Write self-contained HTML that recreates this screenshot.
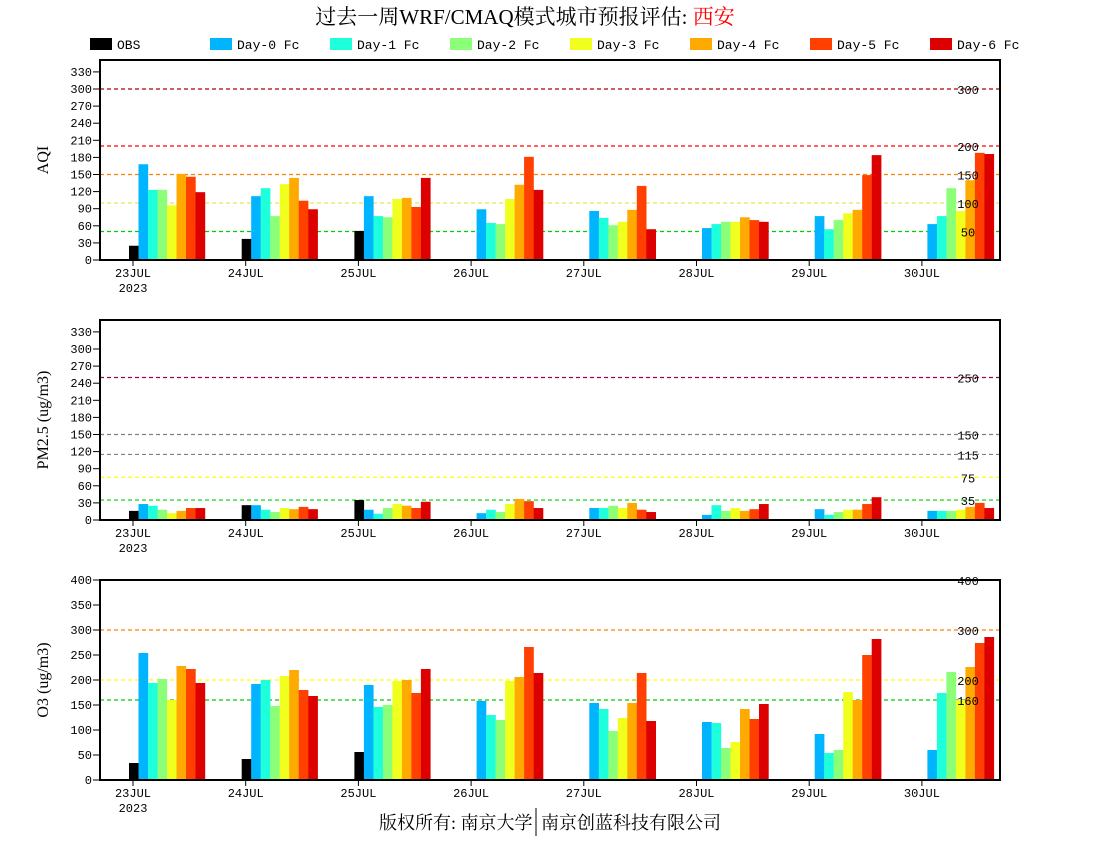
<!DOCTYPE html>
<html><head><meta charset="utf-8"><style>
body{margin:0;background:#fff;width:1100px;height:850px;overflow:hidden}
svg{display:block}
text{font-family:"Liberation Mono","Noto Sans CJK SC",monospace;fill:#000}
</style></head><body>
<svg id="s" width="1100" height="850" xmlns="http://www.w3.org/2000/svg">
<text x="525" y="24" text-anchor="middle" style="font-family:'Liberation Serif','Noto Serif CJK SC',serif;font-size:21px">过去一周WRF/CMAQ模式城市预报评估: <tspan fill="#ff0000" style="fill:#ff0000">西安</tspan></text>
<text x="550" y="829" text-anchor="middle" style="font-family:'Liberation Serif','Noto Serif CJK SC',serif;font-size:18px">版权所有: 南京大学 <tspan dx="4">南京创蓝科技有限公司</tspan></text>
<line x1="536" y1="808" x2="536" y2="836" stroke="#000" stroke-width="1"/>
</svg>
<script>
const s=document.getElementById('s');const NS='http://www.w3.org/2000/svg';
function el(t,a,txt){const e=document.createElementNS(NS,t);for(const k in a)e.setAttribute(k,a[k]);if(txt!=null)e.textContent=txt;s.appendChild(e);return e;}
const cols=['#000000','#00b4ff','#1effdc','#8cff78','#f0ff1e','#ffaa00','#ff4000','#dc0000'];
const names=['OBS','Day-0 Fc','Day-1 Fc','Day-2 Fc','Day-3 Fc','Day-4 Fc','Day-5 Fc','Day-6 Fc'];
names.forEach((n,i)=>{const x=90+i*120;el('rect',{x:x,y:38,width:22,height:12,fill:cols[i]});el('text',{x:x+27,y:49,'font-size':'13'},n);});
const days=['23JUL','24JUL','25JUL','26JUL','27JUL','28JUL','29JUL','30JUL'];
const SP=112.7;
function chart(y0,ppu,ticks,lines,data,title){
 const top=y0-200;
 lines.forEach(l=>{const y=y0-l[0]*ppu;el('line',{x1:100,x2:1000,y1:y,y2:y,stroke:l[1],'stroke-dasharray':'4,3','stroke-width':1.2});});
 data.forEach((g,d)=>{const tx=133+d*SP;g.forEach((v,i)=>{if(v==null)return;el('rect',{x:tx-4+i*9.5,y:y0-v*ppu,width:9.7,height:v*ppu,fill:cols[i]});});});
 lines.forEach(l=>{if(l[2])el('text',{x:968,y:y0-l[0]*ppu+5,'font-size':'12','text-anchor':'middle'},l[2]);});
 el('rect',{x:100,y:top,width:900,height:200,fill:'none',stroke:'#000','stroke-width':2});
 ticks.forEach(t=>{const y=y0-t*ppu;el('line',{x1:93,x2:100,y1:y,y2:y,stroke:'#000'});el('text',{x:92,y:y+4,'font-size':'12','text-anchor':'end'},t);});
 days.forEach((dn,d)=>{const tx=133+d*SP;el('line',{x1:tx,x2:tx,y1:y0,y2:y0+6,stroke:'#000'});el('text',{x:tx,y:y0+17,'font-size':'12','text-anchor':'middle'},dn);});
 el('text',{x:133,y:y0+32,'font-size':'12','text-anchor':'middle'},'2023');
 const cy=(top+y0)/2;el('text',{x:48,y:cy,'font-size':'16','text-anchor':'middle',transform:`rotate(-90 48 ${cy})`,style:"font-family:'Liberation Serif',serif"},title);
}
const t1=[];for(let i=0;i<=330;i+=30)t1.push(i);
chart(260,0.57,t1,[[300,'#b00000','300'],[200,'#ff0000','200'],[150,'#ff8000','150'],[100,'#e8e850','100'],[50,'#00cc00','50']],[
[25,168,123,123,96,151,146,119],[37,112,126,77,133,144,104,89],[51,112,77,75,107,109,93,144],[null,89,65,63,107,132,181,123],
[null,86,74,61,67,88,130,54],[null,56,63,67,67,75,70,67],[null,77,54,70,82,88,149,184],[null,63,77,126,86,140,188,186]],'AQI');
chart(520,0.57,t1,[[250,'#a00050','250'],[150,'#808080','150'],[115,'#808080','115'],[75,'#ffff00','75'],[35,'#00cc00','35']],[
[16,28,25,18,12,16,21,21],[26,26,18,14,21,19,23,19],[35,18,11,21,28,25,21,32],[null,12,18,14,28,37,33,21],
[null,21,21,25,21,30,18,14],[null,9,26,16,21,16,19,28],[null,19,9,14,18,18,28,40],[null,16,16,16,18,23,30,21]],'PM2.5 (ug/m3)');
const t3=[];for(let i=0;i<=400;i+=50)t3.push(i);
chart(780,0.5,t3,[[400,'#ff0000','400'],[300,'#ff8000','300'],[200,'#ffff00','200'],[160,'#00cc00','160']],[
[34,254,194,202,160,228,222,194],[42,192,200,148,208,220,180,168],[56,190,146,150,198,200,174,222],[null,158,130,120,198,206,266,214],
[null,154,142,98,124,154,214,118],[null,116,114,64,76,142,122,152],[null,92,54,60,176,160,250,282],[null,60,174,216,160,226,274,286]],'O3 (ug/m3)');
</script>
</body></html>
